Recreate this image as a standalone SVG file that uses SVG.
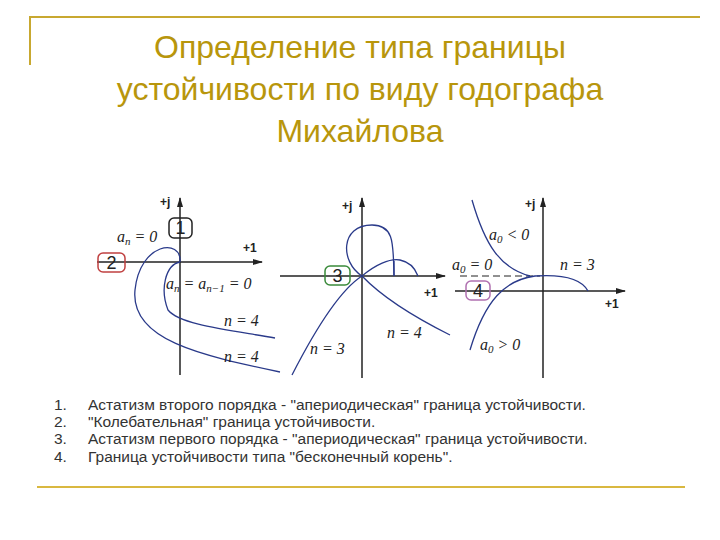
<svg xmlns="http://www.w3.org/2000/svg" width="720" height="540" viewBox="0 0 720 540">
<defs>
<marker id="ar" viewBox="0 0 10 10" refX="9" refY="5" markerWidth="7" markerHeight="7" orient="auto"><path d="M0,2 L10,5 L0,8 z" fill="#222"/></marker>
</defs>
<style>
.t{font-family:"Liberation Sans",Arial,sans-serif;fill:#b8960c;font-size:32px;text-anchor:middle}
.frame{stroke:#c8a830;stroke-width:2;fill:none}
.ax{stroke:#222;stroke-width:1.5;fill:none}
.cv{stroke:#2a3a8a;stroke-width:1.3;fill:none}
.lb{font-family:"Liberation Serif","DejaVu Serif",serif;font-style:italic;font-size:16px;fill:#222}
.ax1{font-family:"Liberation Sans",Arial,sans-serif;font-size:12px;font-weight:bold;fill:#222}
.box{fill:none;stroke-width:1.5;rx:5}
.bn{font-family:"Liberation Sans",Arial,sans-serif;font-size:18px;fill:#222;text-anchor:middle}
.li{font-family:"Liberation Sans",Arial,sans-serif;font-size:15.5px;fill:#333}
</style>
<rect width="720" height="540" fill="#fff"/>
<g id="frame">
<path class="frame" d="M30,65 V17 H700"/>
<line x1="37" y1="487" x2="685" y2="487" stroke="#d9b840" stroke-width="2"/>
</g>
<g id="title">
<text class="t" x="360" y="58">Определение типа границы</text>
<text class="t" x="360" y="100">устойчивости по виду годографа</text>
<text class="t" x="360" y="142">Михайлова</text>
</g>
<g id="connectors">
<line class="ax" x1="180" y1="375" x2="180" y2="198" marker-end="url(#ar)"/>
<line class="ax" x1="97" y1="262" x2="262" y2="262" marker-end="url(#ar)"/>
<path class="cv" d="M180,262 C182,238 140,242 135,290 C130,340 200,355 280,372"/>
<path class="cv" d="M180,262 C165,265 160,290 168,310 C180,325 230,330 275,338"/>
<line class="ax" x1="362" y1="378" x2="362" y2="198" marker-end="url(#ar)"/>
<line class="ax" x1="280" y1="276" x2="445" y2="276" marker-end="url(#ar)"/>
<path class="cv" d="M362,276 C340,262 340,225 372,225 C395,225 393,245 394,276"/>
<path class="cv" d="M362,276 C375,265 390,258 400,260 C410,262 415,268 418,276"/>
<line class="cv" x1="394" y1="261" x2="394" y2="276"/>
<path class="cv" d="M292,375 C315,330 340,290 362,276 C385,300 420,320 450,335"/>
<line class="ax" x1="543" y1="378" x2="543" y2="198" marker-end="url(#ar)"/>
<line class="ax" x1="455" y1="291" x2="625" y2="291" marker-end="url(#ar)"/>
<line x1="460" y1="276" x2="540" y2="276" stroke="#222" stroke-width="1" stroke-dasharray="7,4"/>
<path class="cv" d="M472,200 C485,245 500,268 530,276"/>
<path class="cv" d="M470,350 C485,300 505,280 535,276 C565,274 582,280 588,291"/>
</g>
<g id="plot1">
<text class="ax1" x="160" y="206">+j</text>
<text class="ax1" x="243" y="252">+1</text>
<rect class="box" x="169" y="218" width="23" height="20" stroke="#222"/>
<text class="bn" x="180.5" y="234">1</text>
<rect class="box" x="98" y="253" width="27" height="19" stroke="#c04040"/>
<text class="bn" x="111.5" y="269">2</text>
<text class="lb" x="117" y="242">a<tspan font-size="11" dy="3">n</tspan><tspan dy="-3"> = 0</tspan></text>
<text class="lb" x="166" y="289">a<tspan font-size="11" dy="3">n</tspan><tspan dy="-3"> = a</tspan><tspan font-size="11" dy="3">n−1</tspan><tspan dy="-3"> = 0</tspan></text>
<text class="lb" x="224" y="326">n = 4</text>
<text class="lb" x="224" y="362">n = 4</text>
</g>
<g id="plot2">
<text class="ax1" x="342" y="210">+j</text>
<text class="ax1" x="424" y="297">+1</text>
<rect class="box" x="325" y="266" width="25" height="19" stroke="#3a8a3a"/>
<text class="bn" x="337.5" y="282">3</text>
<text class="lb" x="310" y="354">n = 3</text>
<text class="lb" x="387" y="338">n = 4</text>
</g>
<g id="plot3">
<text class="ax1" x="525" y="208">+j</text>
<text class="ax1" x="605" y="308">+1</text>
<rect class="box" x="466" y="281" width="24" height="19" stroke="#b070b0"/>
<text class="bn" x="478" y="297">4</text>
<text class="lb" x="489" y="240">a<tspan font-size="11" dy="3">0</tspan><tspan dy="-3"> &lt; 0</tspan></text>
<text class="lb" x="452" y="270">a<tspan font-size="11" dy="3">0</tspan><tspan dy="-3"> = 0</tspan></text>
<text class="lb" x="560" y="270">n = 3</text>
<text class="lb" x="480" y="350">a<tspan font-size="11" dy="3">0</tspan><tspan dy="-3"> &gt; 0</tspan></text>
</g>
<g id="list">
<text class="li" x="54" y="410">1.</text><text class="li" x="88" y="410">Астатизм второго порядка - "апериодическая" граница устойчивости.</text>
<text class="li" x="54" y="427">2.</text><text class="li" x="88" y="427">"Колебательная" граница устойчивости.</text>
<text class="li" x="54" y="444">3.</text><text class="li" x="88" y="444">Астатизм первого порядка - "апериодическая" граница устойчивости.</text>
<text class="li" x="54" y="462">4.</text><text class="li" x="88" y="462">Граница устойчивости типа "бесконечный корень".</text>
</g>
</svg>
